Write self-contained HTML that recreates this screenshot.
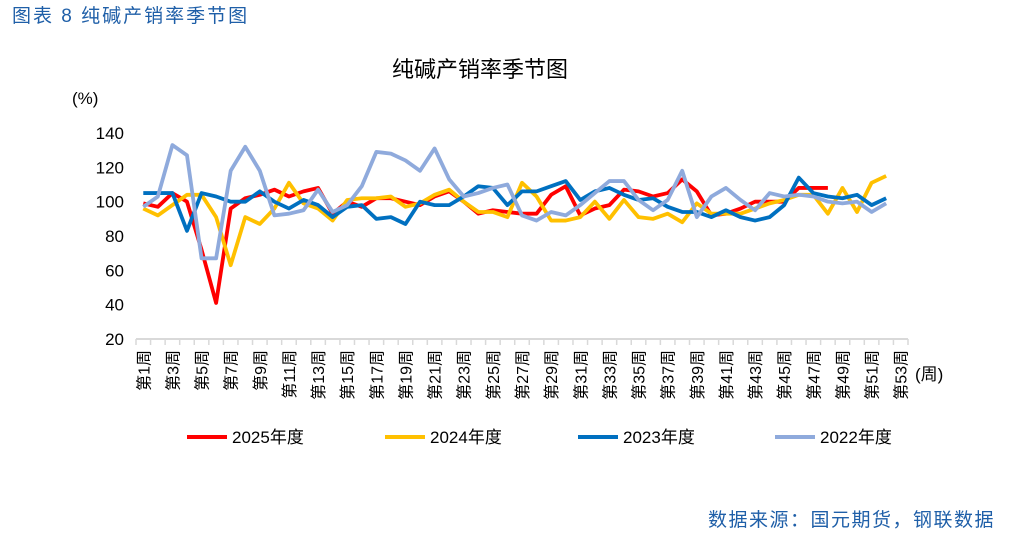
<!DOCTYPE html>
<html><head><meta charset="utf-8"><style>
body{margin:0;background:#fff;width:1021px;height:550px;overflow:hidden;font-family:"Liberation Sans","Noto Sans CJK SC",sans-serif}
</style></head><body>
<svg id="c" width="1021" height="550" xmlns="http://www.w3.org/2000/svg">
<text x="12" y="22" font-size="19" letter-spacing="2" fill="#1f5fa8" font-family="Liberation Sans,Noto Sans CJK SC,sans-serif">图表 8 纯碱产销率季节图</text>
<text x="480" y="77" font-size="22" text-anchor="middle" fill="#000" font-family="Liberation Sans,Noto Sans CJK SC,sans-serif">纯碱产销率季节图</text>
<text x="72" y="104" font-size="17" font-family="Liberation Sans,Noto Sans CJK SC,sans-serif">(%)</text>
<text x="915" y="380" font-size="17" font-family="Liberation Sans,Noto Sans CJK SC,sans-serif">(周)</text>
<text x="995" y="526" font-size="19" letter-spacing="1.5" text-anchor="end" fill="#1f5fa8" font-family="Liberation Sans,Noto Sans CJK SC,sans-serif">数据来源：国元期货，钢联数据</text>
<g id="axes"></g><g id="lines"></g><g id="legend"></g>
</svg>
<script>
const yTicks=[20,40,60,80,100,120,140];
const seriesNames=["2025年度","2024年度","2023年度","2022年度"];
const s2025=[99,97,105,100,72,41,96,102,104,107,103,106,108,93,100,97,102,102,100,98,103,106,100,93,95,94,93,93,104,109,92,96,98,107,106,103,105,113,106,92,93,96,100,100,100,108,108,108];
const s2024=[96,92,98,104,104,91,63,91,87,96,111,99,96,89,101,102,102,103,97,99,104,107,100,94,94,91,111,103,89,89,91,100,90,101,91,90,93,88,99,93,93,93,96,99,101,104,104,93,108,94,111,115];
const s2023=[105,105,105,83,105,103,100,100,106,100,96,101,98,91,97,98,90,91,87,100,98,98,103,109,108,98,106,106,109,112,101,106,108,104,101,102,97,94,94,91,95,91,89,91,98,114,105,103,102,104,98,102];
const s2022=[97,103,133,127,67,67,118,132,118,92,93,95,107,94,98,109,129,128,124,118,131,113,103,105,108,110,92,89,94,92,98,105,112,112,101,95,101,118,91,103,108,101,95,105,103,104,103,100,99,100,94,99];
const colors=["#ff0000","#ffc000","#0070c0","#8faadc"];
const NS="http://www.w3.org/2000/svg";
const x0=136,x1=908,nCat=53,band=(x1-x0)/nCat;
const xPos=i=>x0+band*(i+0.5);
const yPos=v=>339-(v-20)*(206/120);
function mk(t,a,p){const e=document.createElementNS(NS,t);for(const k in a)e.setAttribute(k,a[k]);p.appendChild(e);return e;}
const ax=document.getElementById('axes');
const axisLine=mk('line',{x1:x0,x2:x1,y1:339,y2:339,stroke:'#d9d9d9','stroke-width':2},ax);


for(let i=0;i<=nCat;i++){const t=mk('line',{x1:x0+band*i,x2:x0+band*i,y1:339,y2:345,stroke:'#d9d9d9','stroke-width':1.5},ax);

}
yTicks.forEach(v=>{const t=mk('text',{x:124,y:yPos(v)+6,'font-size':17,'text-anchor':'end'},ax);t.textContent=v;

});
for(let i=0;i<nCat;i+=2){const cx=xPos(i)+6;const t=mk('text',{x:0,y:0,'font-size':16,'text-anchor':'end',transform:`translate(${cx},350) rotate(-90)`},ax);t.textContent='第'+(i+1)+'周';

}
const lg=document.getElementById('lines');
[s2025,s2024,s2023,s2022].forEach((s,k)=>{
const p=mk('polyline',{points:s.map((v,i)=>xPos(i)+','+yPos(v)).join(' '),fill:'none',stroke:colors[k],'stroke-width':3.8,'stroke-linejoin':'round'},lg);

});
const leg=document.getElementById('legend');
const lx=[187,385,578,775];
seriesNames.forEach((n,k)=>{const g=mk('g',{},leg);


mk('line',{x1:lx[k],x2:lx[k]+40,y1:437,y2:437,stroke:colors[k],'stroke-width':4},g);
const t=mk('text',{x:lx[k]+45,y:443,'font-size':17},g);t.textContent=n;});
</script>
</body></html>
